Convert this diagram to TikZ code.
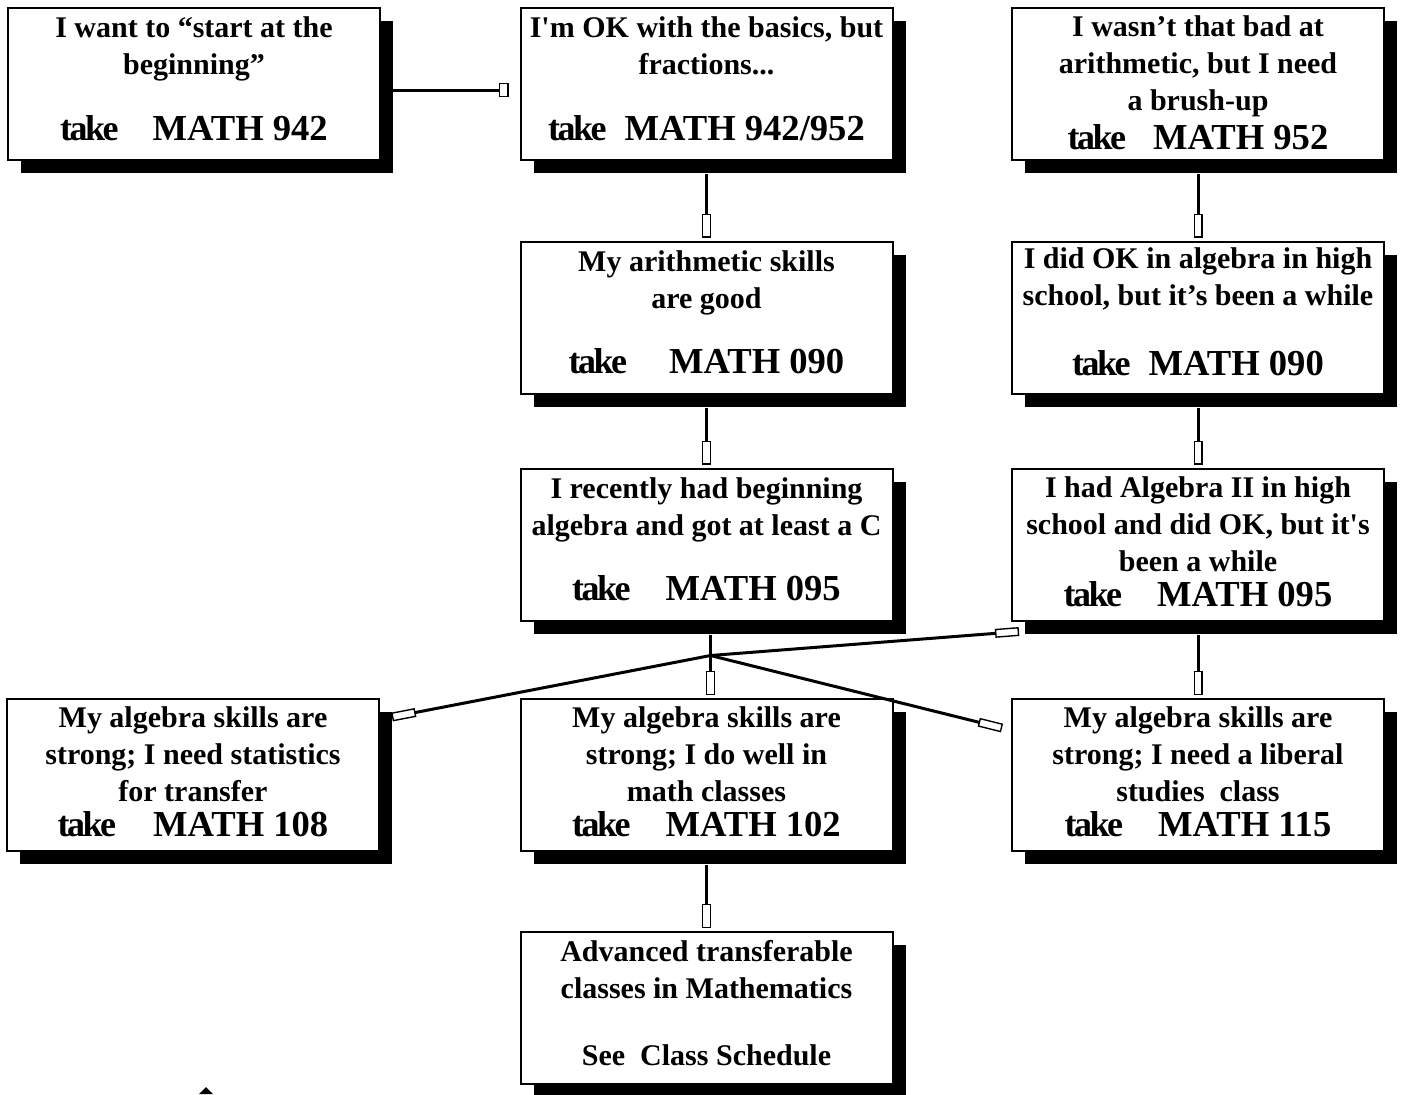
\documentclass[tikz,border=0pt]{standalone}
\usepackage{fontspec}
\setmainfont{Liberation Serif}
\usetikzlibrary{arrows.meta}
\usetikzlibrary{shadows}

\newcommand{\takeline}[2]{{\fontsize{18}{18.5}\selectfont\addfontfeature{LetterSpace=-7}take}\hspace{#1}{\fontsize{18.3}{18.5}\selectfont MATH #2}}

\begin{document}
\begin{tikzpicture}[x=0.5pt, y=-0.5pt,
    choice/.style={draw, line width=1pt, fill=white, minimum width=186pt, minimum height=76pt,
        align=center, inner sep=2pt, text depth=3pt, font=\fontsize{15}{18.5}\selectfont\bfseries,
        drop shadow={shadow xshift=6.5pt, shadow yshift=-6.5pt, fill=black, opacity=1}},
    gapped/.style={text depth=5.5pt},
    link/.style={line width=1.5pt, -{Rectangle[open, length=12pt, width=4.5pt, line width=0.7pt]}},
    sidelink/.style={line width=1.5pt, -{Rectangle[open, length=5pt, width=7pt, line width=0.7pt]}}]
            \useasboundingbox (0,0) rectangle (1401,1094);
            \node[choice, gapped] (m942) at (194,84) {I want to “start at the\\ beginning”\\[14.5pt] \takeline{17pt}{942}};
            \node[choice, gapped] (m942b) at (706.5,84) {I\textquotesingle m OK with the basics, but\\ fractions...\\[14.5pt] \takeline{9pt}{942/952}};
            \node[choice, text depth=1pt] (m952) at (1198,84) {I wasn’t that bad at\\ arithmetic, but I need\\ a brush-up\\[1pt] \takeline{13.5pt}{952}};
            \node[choice, gapped] (m090a) at (706.5,317.5) {My arithmetic skills\\ are good\\[14pt] \takeline{21pt}{090}};
            \node[choice, gapped] (m090b) at (1198,317.5) {I did OK in algebra in high\\ school, but it’s been a while\\[16.5pt] \takeline{9pt}{090}};
            \node[choice, gapped] (m095a) at (706.5,544.5) {I recently had beginning\\ algebra and got at least a C\\[14pt] \takeline{17.5pt}{095}};
            \node[choice] (m095b) at (1198,544.5) {I had Algebra II in high\\ school and did OK, but it\textquotesingle s\\ been a while\\[-1pt] \takeline{17.5pt}{095}};
            \node[choice] (m108) at (193,775) {My algebra skills are\\ strong; I need statistics\\ for transfer\\[-1pt] \takeline{18.5pt}{108}};
            \node[choice] (m102) at (706.5,775) {My algebra skills are\\ strong; I do well in\\ math classes\\[-1pt] \takeline{17.5pt}{102}};
            \node[choice] (m115) at (1198,775) {My algebra skills are\\ strong; I need a liberal\\ studies\ \ class\\[-1pt] \takeline{17.5pt}{115}};
            \node[choice, gapped] (adv) at (706.5,1008) {Advanced transferable\\ classes in Mathematics\\[15pt] See\ \ Class Schedule};
            % connectors
            \draw[sidelink] ([shift={(8,6)}]m942.east) to ([shift={(-11,6)}]m942b.west);
            \draw[link] ([shift={(0,13)}]m942b.south) to ([shift={(0,-3)}]m090a.north);
            \draw[link] ([shift={(0,13)}]m952.south) to ([shift={(0,-3)}]m090b.north);
            \draw[link] ([shift={(0,13)}]m090a.south) to ([shift={(0,-3)}]m095a.north);
            \draw[link] ([shift={(0,13)}]m090b.south) to ([shift={(0,-3)}]m095b.north);
            \draw[link] ([shift={(0,13)}]m095b.south) to ([shift={(0,-3)}]m115.north);
            \draw[link] ([shift={(0,13)}]m102.south) to ([shift={(0,-3)}]adv.north);
            \coordinate (hub) at ([shift={(4,34)}]m095a.south);
            \draw[link] ([shift={(4,13)}]m095a.south) to ([shift={(4,-3)}]m102.north);
            \draw[link] (hub) to ([shift={(12,19)}]m108.north east);
            \draw[link] (hub) to ([shift={(8,10)}]m095b.south west);
            \draw[link] (hub) to ([shift={(-9,30)}]m115.north west);
            \fill (199,1094) -- (206,1087) -- (213,1094) -- cycle;
        \end{tikzpicture}
\end{document}
